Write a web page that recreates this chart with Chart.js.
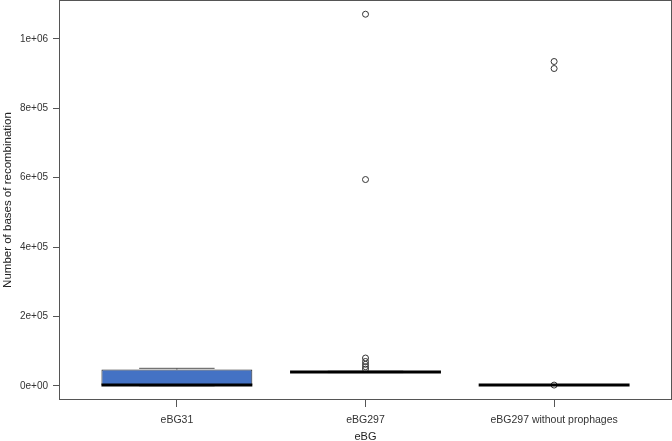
<!DOCTYPE html>
<html>
<head>
<meta charset="utf-8">
<script src="https://cdn.jsdelivr.net/npm/chart.js@4/dist/chart.umd.min.js"></script>
<style>
  html, body { margin: 0; padding: 0; background: #fff; }
  #wrap { width: 672px; height: 441px; }
</style>
</head>
<body>
<div id="wrap"><canvas id="box-chart" width="672" height="441"></canvas></div>
<script>
const categories = ['eBG31', 'eBG297', 'eBG297 without prophages'];
const whiskerLow = [0, 38000, 1000];
const q1 = [1500, 39000, 1500];
const median = [2500, 39600, 2000];
const q3 = [46800, 40000, 2500];
const whiskerHigh = [50300, 42000, 3000];
const outliersEBG31 = [];
const outliersEBG297 = [48000, 55000, 62000, 70000, 80000, 594500, 1071000];
const outliersNoProphages = [2000, 914500, 934700];
const yTicks = [0, 200000, 400000, 600000, 800000, 1000000];
const yTickLabels = ['0e+00', '2e+05', '4e+05', '6e+05', '8e+05', '1e+06'];

const outlierPoints = [];
[outliersEBG31, outliersEBG297, outliersNoProphages].forEach((list, i) => {
  list.forEach(v => outlierPoints.push({ x: i, y: v }));
});

// medians, whiskers and the frame around the plot, R style
const boxExtras = {
  id: 'boxExtras',
  afterDatasetsDraw(chart) {
    const ctx = chart.ctx;
    const xs = chart.scales.x;
    const ys = chart.scales.y;
    const bars = chart.getDatasetMeta(0).data;
    ctx.save();
    categories.forEach((c, i) => {
      const cx = xs.getPixelForValue(i);
      const half = bars[i].width / 2;
      const cap = half / 2;
      // whiskers (dashed) and caps
      ctx.strokeStyle = '#444';
      ctx.lineWidth = 1;
      ctx.setLineDash([4, 3]);
      ctx.beginPath();
      ctx.moveTo(cx, ys.getPixelForValue(q3[i]));
      ctx.lineTo(cx, ys.getPixelForValue(whiskerHigh[i]));
      ctx.moveTo(cx, ys.getPixelForValue(q1[i]));
      ctx.lineTo(cx, ys.getPixelForValue(whiskerLow[i]));
      ctx.stroke();
      ctx.setLineDash([]);
      ctx.strokeStyle = '#555';
      ctx.beginPath();
      ctx.moveTo(cx - cap, ys.getPixelForValue(whiskerHigh[i]));
      ctx.lineTo(cx + cap, ys.getPixelForValue(whiskerHigh[i]));
      ctx.moveTo(cx - cap, ys.getPixelForValue(whiskerLow[i]));
      ctx.lineTo(cx + cap, ys.getPixelForValue(whiskerLow[i]));
      ctx.stroke();
      // median
      ctx.strokeStyle = '#000';
      ctx.lineWidth = 3;
      ctx.beginPath();
      ctx.moveTo(cx - half, ys.getPixelForValue(median[i]));
      ctx.lineTo(cx + half, ys.getPixelForValue(median[i]));
      ctx.stroke();
    });
    const a = chart.chartArea;
    ctx.strokeStyle = '#555';
    ctx.lineWidth = 1;
    ctx.strokeRect(a.left + 0.5, a.top + 0.5, a.right - a.left - 1, a.bottom - a.top - 1);
    ctx.restore();
  }
};

const data = {
  datasets: [
    {
      type: 'bar',
      label: 'box',
      data: categories.map((c, i) => ({ x: i, y: [q1[i], q3[i]] })),
      backgroundColor: '#4472C4',
      borderColor: '#222',
      borderWidth: 1,
      borderSkipped: false,
      barPercentage: 0.8,
      categoryPercentage: 1.0,
      order: 2
    },
    {
      type: 'scatter',
      label: 'outliers',
      data: outlierPoints,
      pointStyle: 'circle',
      pointRadius: 3,
      pointBorderWidth: 1,
      pointBorderColor: '#333',
      pointBackgroundColor: 'rgba(255,255,255,0)',
      order: 0
    }
  ]
};

const config = {
  type: 'bar',
  data: data,
  options: {
    responsive: false,
    animation: false,
    layout: { autoPadding: false, padding: { top: 0, right: 0, bottom: 0, left: 0 } },
    plugins: {
      legend: { display: false },
      tooltip: { enabled: false }
    },
    scales: {
      x: {
        type: 'linear',
        min: -0.625,
        max: 2.625,
        offset: false,
        afterBuildTicks: axis => { axis.ticks = categories.map((c, i) => ({ value: i })); },
        afterFit: s => { s.height = 41; s.paddingLeft = 0; s.paddingRight = 0; },
        ticks: {
          callback: v => categories[v],
          color: '#333',
          font: { family: 'Liberation Sans, Arial', size: 10.5 },
          padding: 7,
          maxRotation: 0
        },
        grid: { offset: false, drawOnChartArea: false, drawTicks: true, tickLength: 7, color: '#555' },
        border: { display: false },
        title: {
          display: true,
          text: 'eBG',
          color: '#222',
          font: { family: 'Liberation Sans, Arial', size: 11 },
          padding: { top: 0, bottom: -3 }
        }
      },
      y: {
        min: -41000,
        max: 1112000,
        afterBuildTicks: axis => { axis.ticks = yTicks.map(v => ({ value: v })); },
        afterFit: s => { s.width = 59; s.paddingTop = 0; s.paddingBottom = 0; },
        ticks: {
          callback: v => yTickLabels[yTicks.indexOf(v)],
          color: '#333',
          font: { family: 'Liberation Sans, Arial', size: 10 },
          padding: 5
        },
        grid: { drawOnChartArea: false, drawTicks: true, tickLength: 6, color: '#555' },
        border: { display: false },
        title: {
          display: true,
          text: 'Number of bases of recombination',
          color: '#222',
          font: { family: 'Liberation Sans, Arial', size: 11.5 },
          padding: { top: 1, bottom: 0 }
        }
      }
    }
  },
  plugins: [boxExtras]
};

const boxChart = new Chart(document.getElementById('box-chart'), config);
</script>
</body>
</html>
